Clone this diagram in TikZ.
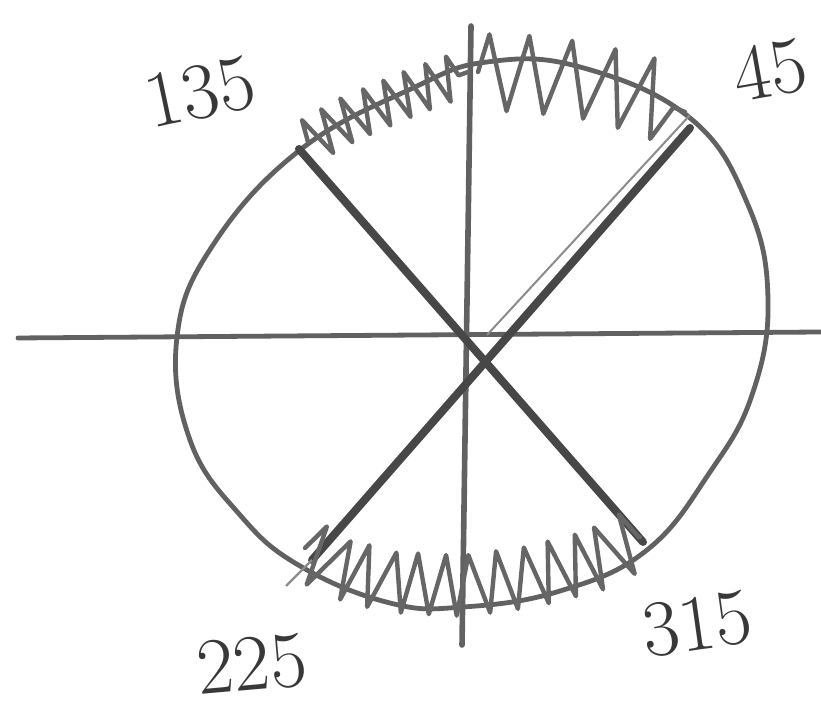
\documentclass[tikz,border=0pt]{standalone}
\usetikzlibrary{decorations.pathmorphing}
\begin{document}
\begin{tikzpicture}[x=0.25pt,y=-0.25pt,
  pencil/.style={draw=black!62, line width=1.2pt, line cap=round, line join=round},
  heavy/.style={draw=black!72, line width=2pt, line cap=round},
  zig/.style={draw=black!60, line width=1.1pt, line join=round, line cap=round, decorate},
  lab/.style={text=black!78, font=\fontsize{20}{20}\selectfont, inner sep=0pt}]
\useasboundingbox[fill=white] (0,0) rectangle (821,712);
% key points
\coordinate (L) at (18,338);
\coordinate (R) at (821,332);
\coordinate (T) at (471,26);
\coordinate (B) at (462,645);
\coordinate (NW) at (299,149);
\coordinate (SE) at (643,542);
\coordinate (NE) at (690,128);
\coordinate (SW) at (312,560);
% circle
\draw[pencil] plot[smooth cycle, tension=0.7] coordinates {
  (177,337) (190,440) (240,515) (300,566) (390,603) (463,607) (560,591)
  (647,550) (710,472) (752,395) (768,300) (748,205) (690,118) (580,67)
  (487,62) (413,88) (300,150) (213,245)};
% axes
\draw[pencil] (L) -- (R);
\draw[pencil, line width=1.4pt] (T) -- (B);
% diagonals
\draw[heavy] (NW) -- (SE);
\draw[heavy] (NE) -- (SW);
\draw[draw=black!45, line width=0.5pt] (690,115) -- (487,335);
\draw[draw=black!45, line width=0.6pt] (SW) -- (286,586);
% zigzag hatching
\draw[zig, decoration={zigzag, segment length=5.5pt, amplitude=5.5pt}]
  (308,142) -- (347,120) -- (413,92) -- (468,72);
\draw[zig, decoration={zigzag, segment length=10pt, amplitude=9.5pt}]
  (478,72) -- (530,74) -- (580,80) -- (640,94) -- (685,112);
\draw[zig, decoration={zigzag, segment length=7pt, amplitude=7.5pt}]
  (305,548) -- (335,567) -- (390,582) -- (463,586) -- (530,577) -- (597,560) -- (640,537);
% labels
\node[lab, rotate=12] (l135) at (200,92) {135};
\node[lab, rotate=10] (l45) at (770,70) {45};
\node[lab, rotate=5] (l225) at (252,664) {225};
\node[lab, rotate=8] (l315) at (697,624) {315};
\end{tikzpicture}
\end{document}
